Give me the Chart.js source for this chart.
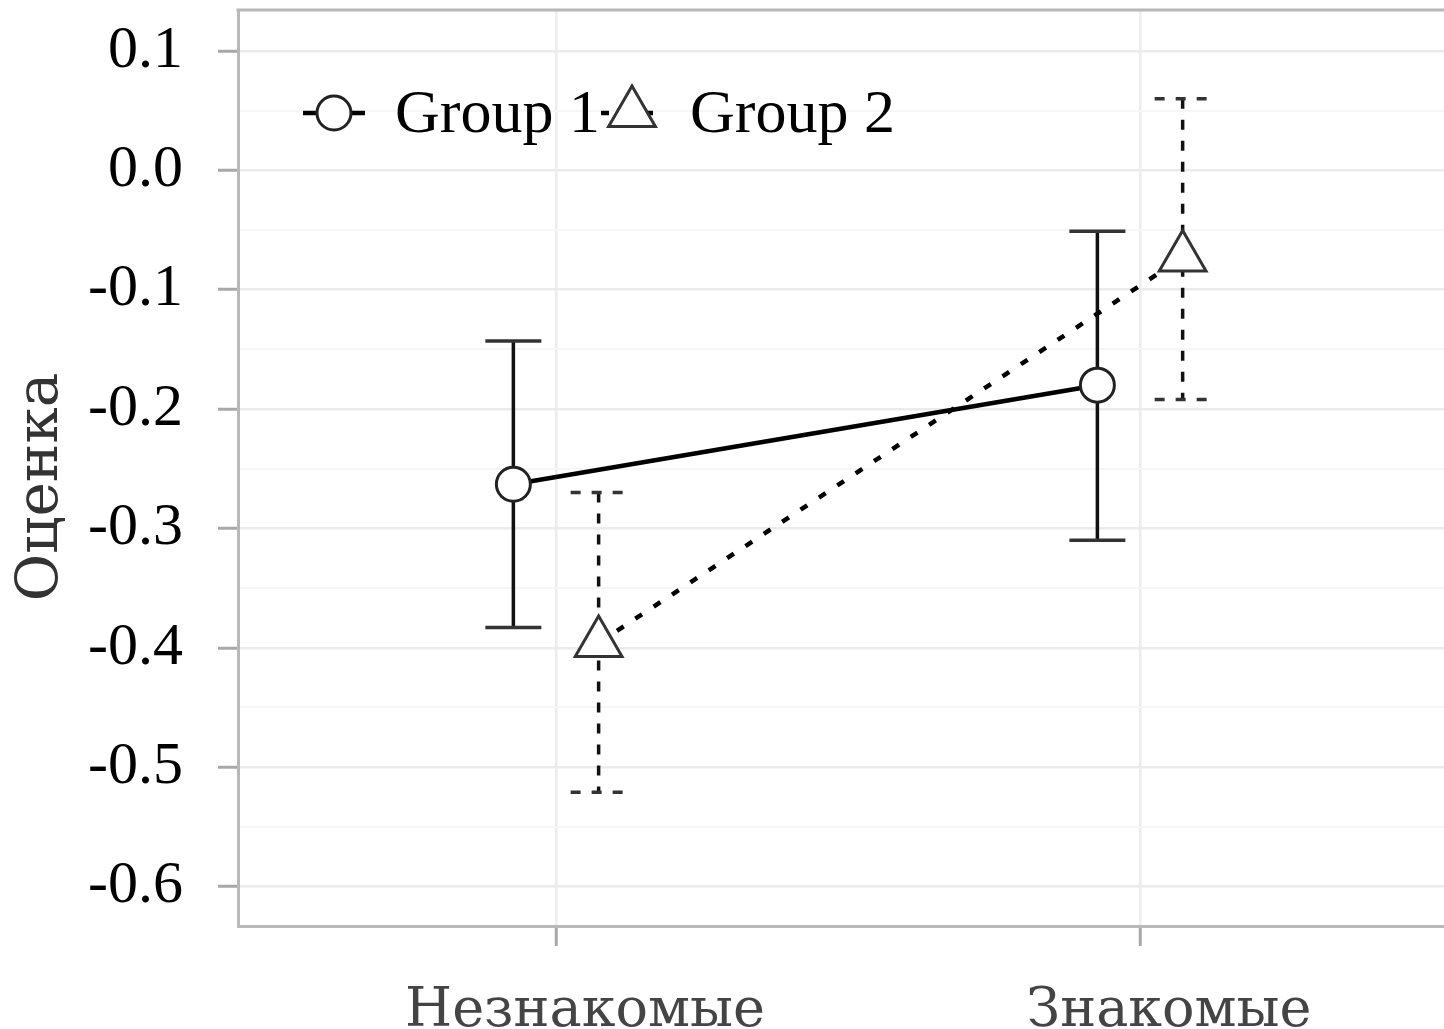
<!DOCTYPE html>
<html>
<head>
<meta charset="utf-8">
<script src="https://cdn.jsdelivr.net/npm/chart.js@4.4.1/dist/chart.umd.min.js"></script>
<style>
  html, body { margin: 0; padding: 0; background: #ffffff; }
  canvas { display: block; }
</style>
</head>
<body>
<canvas id="chart" width="1444" height="1029"></canvas>
<script>
// Categories and series
const categories = ['Незнакомые', 'Знакомые'];
const seriesNames = ['Group 1', 'Group 2'];

// Means with confidence limits
const group1Mean  = [-0.263, -0.180];
const group1Lower = [-0.383, -0.310];
const group1Upper = [-0.143, -0.051];

const group2Mean  = [-0.396, -0.073];
const group2Lower = [-0.521, -0.192];
const group2Upper = [-0.270, 0.060];

// Axis ticks
const yMajorTicks = [-0.6, -0.5, -0.4, -0.3, -0.2, -0.1, 0.0, 0.1];
const yMinorTicks = [-0.55, -0.45, -0.35, -0.25, -0.15, -0.05, 0.05];
const yTitle = 'Оценка';

// Horizontal dodge between the two groups (in category units)
const DODGE = 0.073;

const SERIF = '"Liberation Serif", "DejaVu Serif", serif';
const DJ_SERIF = '"DejaVu Serif", serif';
const BORDER = '#b8b8b8';

const datasets = [
  {
    label: seriesNames[0],
    data: categories.map((c, i) => ({ x: i + 1 - DODGE, y: group1Mean[i] })),
    errLower: group1Lower,
    errUpper: group1Upper,
    errDash: [],
    borderColor: '#000000',
    borderWidth: 4.5,
    borderDash: [],
    pointStyle: 'circle',
    pointRadius: 17,
    pointHoverRadius: 17,
    pointBackgroundColor: '#ffffff',
    pointBorderColor: '#222222',
    pointBorderWidth: 3,
    fill: false,
    tension: 0
  },
  {
    label: seriesNames[1],
    data: categories.map((c, i) => ({ x: i + 1 + DODGE, y: group2Mean[i] })),
    errLower: group2Lower,
    errUpper: group2Upper,
    errDash: [10, 11],
    borderColor: '#000000',
    borderWidth: 4.5,
    borderDash: [8, 14],
    pointStyle: 'triangle',
    pointRadius: 27,
    pointHoverRadius: 27,
    pointBackgroundColor: '#ffffff',
    pointBorderColor: '#333333',
    pointBorderWidth: 3,
    fill: false,
    tension: 0
  }
];

// Vertical error bars with caps, drawn beneath the lines and markers
const errorBars = {
  id: 'errorBars',
  beforeDatasetsDraw(chart) {
    const { ctx, scales: { x, y } } = chart;
    const capHalf = 28;
    chart.data.datasets.forEach((ds) => {
      ds.data.forEach((pt, i) => {
        const px = x.getPixelForValue(pt.x);
        const yTop = y.getPixelForValue(ds.errUpper[i]);
        const yBot = y.getPixelForValue(ds.errLower[i]);
        ctx.save();
        ctx.strokeStyle = '#111111';
        ctx.lineWidth = 3.5;
        ctx.setLineDash(ds.errDash);
        ctx.beginPath();
        ctx.moveTo(px, yTop);
        ctx.lineTo(px, yBot);
        ctx.stroke();
        ctx.strokeStyle = '#333333';
        ctx.beginPath();
        ctx.moveTo(px - capHalf, yTop);
        ctx.lineTo(px + capHalf, yTop);
        ctx.moveTo(px - capHalf, yBot);
        ctx.lineTo(px + capHalf, yBot);
        ctx.stroke();
        ctx.restore();
      });
    });
  }
};

// Panel top edge, axis title and the in-panel legend
const decorations = {
  id: 'decorations',
  afterDraw(chart) {
    const { ctx, chartArea } = chart;
    ctx.save();
    // top edge of panel
    ctx.strokeStyle = BORDER;
    ctx.lineWidth = 3;
    ctx.beginPath();
    ctx.moveTo(chartArea.left - 1.5, chartArea.top);
    ctx.lineTo(chartArea.right, chartArea.top);
    ctx.stroke();

    // y axis title
    ctx.save();
    ctx.translate(42, 487);
    ctx.rotate(-Math.PI / 2);
    ctx.fillStyle = '#333333';
    ctx.font = '58px ' + DJ_SERIF;
    ctx.textAlign = 'center';
    ctx.textBaseline = 'middle';
    ctx.fillText(yTitle, 0, 0);
    ctx.restore();

    // legend keys: line sample with the series marker on top
    const ly = 113;
    const keys = [
      { cx: 334, ds: chart.data.datasets[0], textX: 395 },
      { cx: 632, ds: chart.data.datasets[1], textX: 690 }
    ];
    keys.forEach((k) => {
      ctx.save();
      ctx.strokeStyle = '#000000';
      ctx.lineWidth = 4.5;
      ctx.setLineDash(k.ds.borderDash);
      ctx.beginPath();
      ctx.moveTo(k.cx - 31, ly);
      ctx.lineTo(k.cx + 31, ly);
      ctx.stroke();
      ctx.setLineDash([]);
      ctx.fillStyle = k.ds.pointBackgroundColor;
      ctx.strokeStyle = k.ds.pointBorderColor;
      ctx.lineWidth = k.ds.pointBorderWidth;
      Chart.helpers.drawPoint(ctx, {
        pointStyle: k.ds.pointStyle,
        radius: k.ds.pointRadius,
        rotation: 0,
        borderWidth: k.ds.pointBorderWidth
      }, k.cx, ly);
      ctx.restore();
    });
    keys.forEach((k) => {
      ctx.fillStyle = '#000000';
      ctx.font = '62px ' + SERIF;
      ctx.textAlign = 'left';
      ctx.textBaseline = 'alphabetic';
      ctx.fillText(k.ds.label, k.textX, 132);
    });
    ctx.restore();
  }
};

const chart = new Chart(document.getElementById('chart'), {
  type: 'line',
  data: { datasets },
  options: {
    responsive: false,
    animation: false,
    devicePixelRatio: 1,
    layout: { autoPadding: false, padding: { top: 10, right: 0, left: 0, bottom: 0 } },
    plugins: {
      legend: { display: false },
      tooltip: { enabled: false }
    },
    scales: {
      x: {
        type: 'linear',
        min: 0.4555,
        max: 2.5205,
        afterBuildTicks(scale) {
          scale.ticks = categories.map((c, i) => ({ value: i + 1 }));
        },
        afterFit(scale) {
          scale.height = 103;
          scale.paddingLeft = 0;
          scale.paddingRight = 0;
        },
        ticks: {
          autoSkip: false,
          maxRotation: 0,
          minRotation: 0,
          labelOffset: 29,
          padding: 34,
          color: '#444444',
          font: { family: DJ_SERIF, size: 54 },
          callback: (v, i) => categories[i]
        },
        grid: {
          color: '#ececec',
          lineWidth: 2.5,
          drawTicks: true,
          tickLength: 20,
          tickColor: '#a8a8a8',
          tickWidth: 3
        },
        border: { display: true, color: BORDER, width: 3 }
      },
      y: {
        type: 'linear',
        min: -0.6331,
        max: 0.1343,
        afterBuildTicks(scale) {
          scale.ticks = yMajorTicks.concat(yMinorTicks)
            .sort((a, b) => a - b)
            .map((v) => ({ value: v, major: yMajorTicks.includes(v) }));
        },
        afterFit(scale) {
          scale.width = 238;
          scale.paddingTop = 0;
          scale.paddingBottom = 0;
        },
        ticks: {
          autoSkip: false,
          padding: 35,
          color: '#000000',
          font: { family: SERIF, size: 60 },
          callback: (v) => (yMajorTicks.includes(v) ? v.toFixed(1) : '')
        },
        grid: {
          color: (ctx) => (ctx.tick && yMajorTicks.includes(ctx.tick.value) ? '#ebebeb' : '#f6f6f6'),
          lineWidth: (ctx) => (ctx.tick && yMajorTicks.includes(ctx.tick.value) ? 2.5 : 2),
          drawTicks: true,
          tickLength: 20,
          tickColor: (ctx) => (ctx.tick && yMajorTicks.includes(ctx.tick.value) ? '#a8a8a8' : 'rgba(0,0,0,0)'),
          tickWidth: 3
        },
        border: { display: true, color: BORDER, width: 3 }
      }
    }
  },
  plugins: [errorBars, decorations]
});
</script>
</body>
</html>
